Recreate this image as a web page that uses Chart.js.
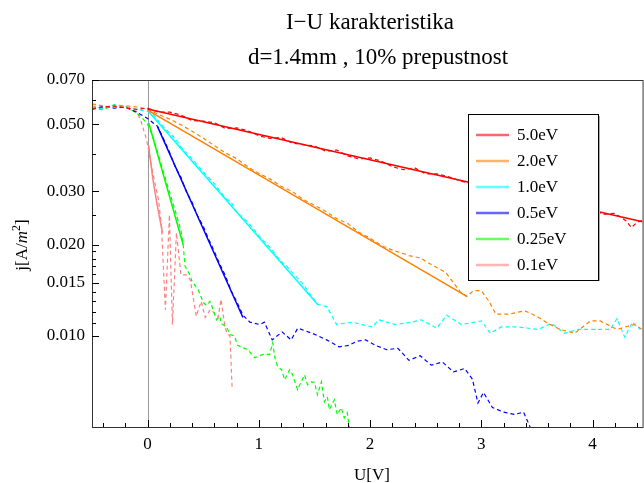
<!DOCTYPE html>
<html>
<head>
<meta charset="utf-8">
<script src="https://cdn.jsdelivr.net/npm/chart.js@4.4.0/dist/chart.umd.min.js"></script>
<style>
    html, body { margin: 0; padding: 0; background: #fff; }
</style>
</head>
<body>
<canvas id="ivChart" width="644" height="483"></canvas>
<script>
// I-U karakteristika, d=1.4mm, 10% prepustnost
// values (U in V, j in A/m^2)

// 5.0eV
const redFitU = [0, 4.45];
const redFitJ = [0.0561, 0.0238];
const redDataU = [-0.5, -0.4, -0.3, -0.2, -0.1, 0, 0.1, 0.2, 0.3, 0.4, 0.5, 0.6, 0.7, 0.8, 0.9, 1.0, 1.1, 1.2, 1.3, 1.4, 1.5, 1.6, 1.7, 1.8, 1.9, 2.0, 2.1, 2.2, 2.3, 2.4, 2.5, 2.6, 2.7, 2.8, 2.9, 3.0, 3.2, 3.4, 3.6, 3.8, 4.0, 4.1, 4.2, 4.3, 4.35, 4.4, 4.45];
const redDataJ = [0.0562, 0.0570, 0.0574, 0.0566, 0.0560, 0.0565, 0.0548, 0.0548, 0.0536, 0.0514, 0.0512, 0.0506, 0.0484, 0.0486, 0.0476, 0.0458, 0.0449, 0.0452, 0.0433, 0.0428, 0.0424, 0.0407, 0.0411, 0.0393, 0.0384, 0.0387, 0.0378, 0.0362, 0.0354, 0.0359, 0.0343, 0.0343, 0.0336, 0.0326, 0.0318, 0.0313, 0.0305, 0.0289, 0.0283, 0.0268, 0.0261, 0.0252, 0.0254, 0.0240, 0.0228, 0.0237, 0.0241];

// 2.0eV
const orangeFitU = [0, 2.87];
const orangeFitJ = [0.0557, 0.0135];
const orangeDataU = [-0.5, -0.4, -0.3, -0.2, -0.1, 0, 0.1, 0.2, 0.3, 0.4, 0.5, 0.6, 0.7, 0.8, 0.9, 1.0, 1.1, 1.2, 1.3, 1.4, 1.5, 1.6, 1.7, 1.8, 1.9, 2.0, 2.1, 2.2, 2.3, 2.35, 2.45, 2.55, 2.68, 2.81, 2.87, 2.93, 3.0, 3.07, 3.13, 3.25, 3.39, 3.5, 3.6, 3.71, 3.84, 3.98, 4.07, 4.22, 4.37, 4.45];
const orangeDataJ = [0.0584, 0.0575, 0.0568, 0.0576, 0.0570, 0.0562, 0.0538, 0.0520, 0.0498, 0.0474, 0.0450, 0.0425, 0.0402, 0.0385, 0.0362, 0.0344, 0.0330, 0.0312, 0.0300, 0.0282, 0.0270, 0.0258, 0.0244, 0.0235, 0.0220, 0.0210, 0.0199, 0.0192, 0.0187, 0.0184, 0.0181, 0.0172, 0.0162, 0.0140, 0.0135, 0.0141, 0.0141, 0.0130, 0.0118, 0.0118, 0.0121, 0.0116, 0.0110, 0.0105, 0.0102, 0.0112, 0.0112, 0.0105, 0.0109, 0.0105];

// 1.0eV
const cyanFitU = [0, 1.53];
const cyanFitJ = [0.0555, 0.0127];
const cyanDataU = [-0.5, -0.4, -0.3, -0.2, -0.1, 0, 0.05, 0.1, 0.2, 0.25, 0.3, 0.4, 0.5, 0.6, 0.7, 0.75, 0.8, 0.9, 1.0, 1.1, 1.2, 1.25, 1.3, 1.4, 1.45, 1.53, 1.61, 1.70, 1.84, 2.02, 2.08, 2.23, 2.375, 2.46, 2.6, 2.69, 2.82, 3.0, 3.08, 3.18, 3.33, 3.51, 3.63, 3.75, 3.87, 4.02, 4.16, 4.22, 4.29, 4.36, 4.43];
const cyanDataJ = [0.0570, 0.0562, 0.0578, 0.0572, 0.0560, 0.0552, 0.0540, 0.0510, 0.0466, 0.0448, 0.0420, 0.0384, 0.0348, 0.0318, 0.0285, 0.0277, 0.0256, 0.0238, 0.0214, 0.0196, 0.0176, 0.0170, 0.0162, 0.0148, 0.0139, 0.0127, 0.0125, 0.0109, 0.0111, 0.0107, 0.0113, 0.0109, 0.0111, 0.0113, 0.0106, 0.0117, 0.0109, 0.0112, 0.0102, 0.0107, 0.0107, 0.0105, 0.0110, 0.0102, 0.0105, 0.0105, 0.0105, 0.0114, 0.0099, 0.0111, 0.0105];

// 0.5eV
const blueFitU = [0.09, 0.857];
const blueFitJ = [0.0490, 0.0115];
const blueDataU = [-0.5, -0.4, -0.3, -0.2, -0.1, -0.05, 0, 0.05, 0.09, 0.15, 0.2, 0.25, 0.3, 0.35, 0.4, 0.45, 0.5, 0.55, 0.6, 0.65, 0.7, 0.75, 0.8, 0.857, 0.92, 1.01, 1.05, 1.12, 1.21, 1.29, 1.35, 1.48, 1.61, 1.72, 1.81, 1.88, 1.96, 2.05, 2.15, 2.25, 2.35, 2.45, 2.55, 2.65, 2.75, 2.85, 2.92, 2.97, 3.02, 3.1, 3.2, 3.3, 3.38, 3.46];
const blueDataJ = [0.0560, 0.0572, 0.0565, 0.0570, 0.0548, 0.0535, 0.0522, 0.0505, 0.0492, 0.0442, 0.0402, 0.0360, 0.0334, 0.0298, 0.0276, 0.0249, 0.0230, 0.0208, 0.0190, 0.0172, 0.0158, 0.0141, 0.0130, 0.0117, 0.0111, 0.0109, 0.0111, 0.0097, 0.0103, 0.0097, 0.0106, 0.0102, 0.0097, 0.0092, 0.0093, 0.0096, 0.0097, 0.0093, 0.0090, 0.0091, 0.0083, 0.0086, 0.0080, 0.0082, 0.0076, 0.0078, 0.0072, 0.0060, 0.0065, 0.0058, 0.0056, 0.0055, 0.0056, 0.0048];

// 0.25eV
const greenFitU = [0.01, 0.32];
const greenFitJ = [0.0505, 0.0200];
const greenDataU = [-0.5, -0.4, -0.3, -0.2, -0.1, -0.05, 0, 0.05, 0.1, 0.15, 0.2, 0.25, 0.3, 0.32, 0.336, 0.38, 0.40, 0.455, 0.50, 0.53, 0.56, 0.59, 0.62, 0.65, 0.66, 0.71, 0.74, 0.78, 0.81, 0.90, 0.964, 1.036, 1.098, 1.125, 1.143, 1.17, 1.205, 1.232, 1.277, 1.304, 1.348, 1.411, 1.4375, 1.473, 1.50, 1.527, 1.5625, 1.589, 1.616, 1.634, 1.679, 1.705, 1.741, 1.768, 1.795, 1.81, 1.83];
const greenDataJ = [0.0566, 0.0558, 0.0580, 0.0574, 0.0545, 0.0525, 0.0500, 0.0452, 0.0392, 0.0340, 0.0296, 0.0258, 0.0222, 0.0200, 0.0170, 0.0159, 0.0151, 0.0142, 0.0129, 0.0126, 0.0130, 0.0122, 0.0113, 0.0116, 0.0110, 0.0107, 0.0101, 0.0100, 0.0093, 0.0090, 0.00847, 0.00868, 0.00868, 0.00949, 0.0085, 0.0079, 0.00773, 0.00716, 0.00773, 0.00744, 0.00664, 0.00744, 0.0069, 0.00705, 0.00703, 0.00639, 0.00705, 0.00606, 0.00629, 0.0057, 0.00615, 0.00549, 0.00579, 0.00536, 0.00557, 0.0051, 0.0047];

// 0.1eV
const pinkFitU = [0.009, 0.045, 0.089, 0.134];
const pinkFitJ = [0.0427, 0.0335, 0.0267, 0.0219];
const pinkDataU = [-0.5, -0.4, -0.3, -0.2, -0.1, -0.0625, -0.009, 0.036, 0.098, 0.125, 0.16, 0.196, 0.223, 0.259, 0.30, 0.348, 0.384, 0.4375, 0.482, 0.518, 0.5625, 0.589, 0.634, 0.66, 0.696, 0.714, 0.74, 0.76];
const pinkDataJ = [0.0575, 0.0566, 0.0570, 0.0568, 0.0552, 0.0516, 0.0444, 0.0361, 0.0281, 0.0229, 0.0122, 0.0251, 0.0109, 0.0219, 0.0159, 0.0159, 0.0153, 0.0116, 0.0130, 0.0115, 0.0122, 0.0120, 0.0115, 0.0132, 0.0107, 0.0102, 0.0100, 0.0067];

// axes
const xTickValues = [-0.4, -0.2, 0, 0.2, 0.4, 0.6, 0.8, 1, 1.2, 1.4, 1.6, 1.8, 2, 2.2, 2.4, 2.6, 2.8, 3, 3.2, 3.4, 3.6, 3.8, 4, 4.2, 4.4];
const xTickLabels = ["0", "1", "2", "3", "4"];
const yTickValues = [0.010, 0.011, 0.012, 0.013, 0.014, 0.015, 0.016, 0.017, 0.018, 0.019, 0.020, 0.025, 0.030, 0.040, 0.050, 0.060, 0.070];
const yTickLabels = ["0.010", "0.015", "0.020", "0.030", "0.050", "0.070"];

const SERIF = "'Liberation Serif', 'Times New Roman', serif";

function pts(us, js) {
    return us.map((u, i) => ({ x: u, y: js[i] }));
}

const series = [
    { label: "5.0eV", color: "#ff0000", fit: pts(redFitU, redFitJ), data: pts(redDataU, redDataJ) },
    { label: "2.0eV", color: "#ff8000", fit: pts(orangeFitU, orangeFitJ), data: pts(orangeDataU, orangeDataJ) },
    { label: "1.0eV", color: "#00ffff", fit: pts(cyanFitU, cyanFitJ), data: pts(cyanDataU, cyanDataJ) },
    { label: "0.5eV", color: "#0000ff", fit: pts(blueFitU, blueFitJ), data: pts(blueDataU, blueDataJ) },
    { label: "0.25eV", color: "#00ff00", fit: pts(greenFitU, greenFitJ), data: pts(greenDataU, greenDataJ) },
    { label: "0.1eV", color: "#ff8080", fit: pts(pinkFitU, pinkFitJ), data: pts(pinkDataU, pinkDataJ) },
];

const datasets = [];
series.forEach((s) => {
    datasets.push({
        label: s.label,
        data: s.fit,
        borderColor: s.color,
        borderWidth: 1.5,
        pointRadius: 0,
        cubicInterpolationMode: "monotone",
        isFit: true,
    });
    datasets.push({
        label: s.label + " data",
        data: s.data,
        borderColor: s.color,
        borderWidth: 1.2,
        borderDash: [4, 3],
        pointRadius: 0,
        isFit: false,
    });
});

// gray vertical line at U = 0
const zeroLine = {
    id: "zeroLine",
    beforeDatasetsDraw(chart) {
        const { ctx, chartArea, scales } = chart;
        const x = Math.round(scales.x.getPixelForValue(0)) + 0.5;
        ctx.save();
        ctx.strokeStyle = "#999";
        ctx.lineWidth = 1;
        ctx.beginPath();
        ctx.moveTo(x, chartArea.top);
        ctx.lineTo(x, chartArea.bottom);
        ctx.stroke();
        ctx.restore();
    },
};

// frame, inward ticks, legend box, titles
const decorations = {
    id: "decorations",
    afterDatasetsDraw(chart) {
        const { ctx, chartArea, scales } = chart;
        const { left, right, top, bottom } = chartArea;
        ctx.save();

        // frame
        ctx.strokeStyle = "#333";
        ctx.lineWidth = 1;
        ctx.strokeRect(left + 0.5, top + 0.5, right - left, bottom - top);

        // ticks pointing into the plot
        ctx.strokeStyle = "#000";
        ctx.beginPath();
        yTickValues.forEach((v) => {
            const y = Math.round(scales.y.getPixelForValue(v)) + 0.5;
            const len = yTickLabels.includes(v.toFixed(3)) ? 7 : 4;
            ctx.moveTo(left, y);
            ctx.lineTo(left + len, y);
        });
        xTickValues.forEach((v) => {
            const x = Math.round(scales.x.getPixelForValue(v)) + 0.5;
            const len = Number.isInteger(v) ? 7 : 4;
            ctx.moveTo(x, bottom);
            ctx.lineTo(x, bottom - len);
        });
        ctx.stroke();

        // legend
        const lx = 468, ly = 114, lw = 130, lh = 166;
        ctx.fillStyle = "#fff";
        ctx.fillRect(lx, ly, lw, lh);
        ctx.strokeStyle = "#aaa";
        ctx.beginPath();
        ctx.moveTo(lx + lw + 1.5, ly + 2);
        ctx.lineTo(lx + lw + 1.5, ly + lh + 1);
        ctx.stroke();
        ctx.strokeStyle = "#000";
        ctx.strokeRect(lx + 0.5, ly + 0.5, lw, lh);

        ctx.font = "17px " + SERIF;
        ctx.textBaseline = "middle";
        ctx.textAlign = "left";
        let row = 0;
        chart.data.datasets.forEach((ds) => {
            if (!ds.isFit) return;
            const y = ly + 21 + row * 26;
            ctx.globalAlpha = 0.6;
            ctx.strokeStyle = ds.borderColor;
            ctx.lineWidth = 2.5;
            ctx.beginPath();
            ctx.moveTo(lx + 8, y);
            ctx.lineTo(lx + 41, y);
            ctx.stroke();
            ctx.globalAlpha = 1;
            ctx.fillStyle = "#000";
            ctx.fillText(ds.label, lx + 49, y + 1);
            row++;
        });

        ctx.restore();
    },
    afterDraw(chart) {
        const ctx = chart.ctx;
        ctx.save();
        ctx.fillStyle = "#000";
        ctx.textAlign = "center";
        ctx.textBaseline = "alphabetic";
        ctx.font = "23px " + SERIF;
        ctx.fillText("I\u2212U karakteristika", 370, 29);
        ctx.fillText("d=1.4mm , 10% prepustnost", 378, 64);

        ctx.font = "17px " + SERIF;
        ctx.fillText("U[V]", 372, 480);

        // y axis title: j[A/m^2] with italic m
        ctx.translate(27, 245);
        ctx.rotate(-Math.PI / 2);
        const normal = "17px " + SERIF;
        const italic = "italic 17px " + SERIF;
        const small = "12px " + SERIF;
        const parts = [
            { t: "j[A/", f: normal, dy: 0 },
            { t: "m", f: italic, dy: 0 },
            { t: "2", f: small, dy: -7 },
            { t: "]", f: normal, dy: 0 },
        ];
        let total = 0;
        parts.forEach((p) => {
            ctx.font = p.f;
            p.w = ctx.measureText(p.t).width;
            total += p.w;
        });
        let cx = -total / 2;
        ctx.textAlign = "left";
        parts.forEach((p) => {
            ctx.font = p.f;
            ctx.fillText(p.t, cx, p.dy);
            cx += p.w;
        });
        ctx.restore();
    },
};

new Chart(document.getElementById("ivChart").getContext("2d"), {
    type: "line",
    data: { datasets: datasets },
    options: {
        responsive: false,
        animation: false,
        layout: { padding: { top: 80, left: 0, right: 0, bottom: 0 } },
        plugins: {
            legend: { display: false },
            title: { display: false },
            tooltip: { enabled: false },
        },
        scales: {
            x: {
                type: "linear",
                min: -0.5,
                max: 4.45,
                grid: { display: false, drawTicks: false },
                border: { display: false },
                afterBuildTicks: (scale) => {
                    scale.ticks = xTickValues.map((v) => ({ value: v }));
                },
                afterFit: (scale) => {
                    scale.height = 56;
                },
                ticks: {
                    autoSkip: false,
                    maxRotation: 0,
                    padding: 7,
                    color: "#000",
                    font: { family: SERIF, size: 17 },
                    callback: (v) => {
                        const s = String(Math.round(v));
                        return Math.abs(v - Math.round(v)) < 1e-6 && xTickLabels.includes(s) ? s : "";
                    },
                },
            },
            y: {
                type: "logarithmic",
                min: 0.005,
                max: 0.07,
                grid: { display: false, drawTicks: false },
                border: { display: false },
                afterBuildTicks: (scale) => {
                    scale.ticks = yTickValues.map((v) => ({ value: v }));
                },
                afterFit: (scale) => {
                    scale.width = 92;
                },
                ticks: {
                    autoSkip: false,
                    padding: 7,
                    color: "#000",
                    font: { family: SERIF, size: 17 },
                    callback: (v) => {
                        const s = Number(v).toFixed(3);
                        return yTickLabels.includes(s) ? s : "";
                    },
                },
            },
        },
    },
    plugins: [zeroLine, decorations],
});
</script>
</body>
</html>
